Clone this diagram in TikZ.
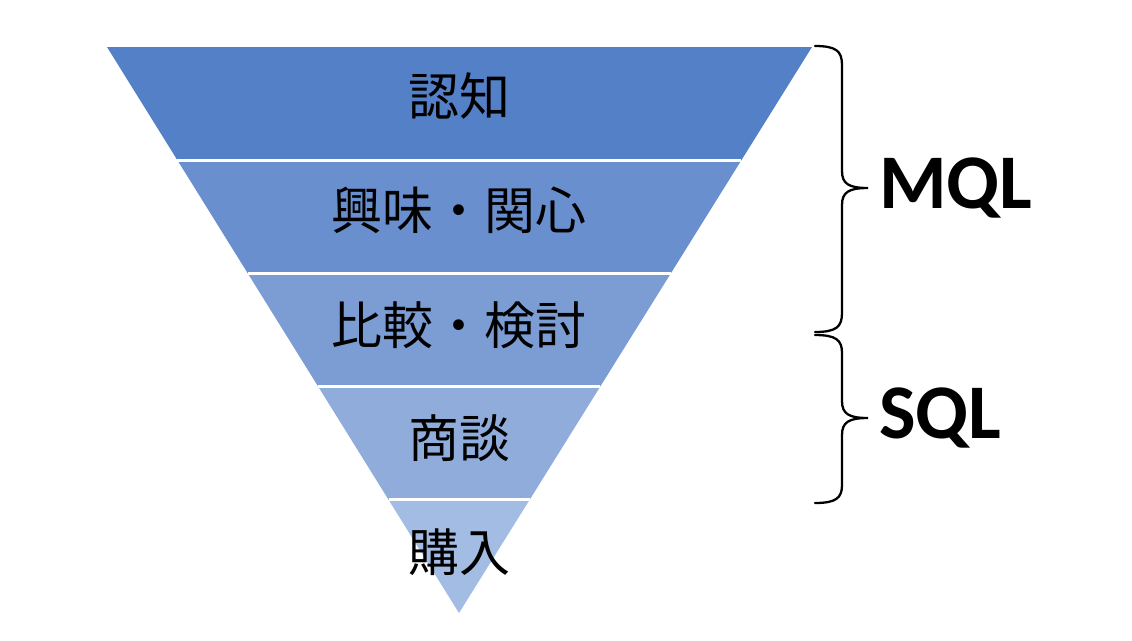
\documentclass[tikz,border=0pt]{standalone}
\usepackage{fontspec}
\usepackage{tikz}
\usetikzlibrary{calc}
\newfontfamily\jpfont{Noto Sans CJK JP}
\newfontfamily\latfont{Carlito}
\definecolor{stageA}{RGB}{84,128,199}
\definecolor{stageB}{RGB}{106,143,206}
\definecolor{stageC}{RGB}{124,157,212}
\definecolor{stageD}{RGB}{143,172,219}
\definecolor{stageE}{RGB}{163,188,227}
\tikzset{
  stage/.style={draw=none},
  gap/.style={draw=white, line width=1.6pt},
  lbl/.style={font=\jpfont\fontsize{29}{34}\selectfont, text=black, inner sep=0pt},
  tag/.style={font=\latfont\bfseries\fontsize{44}{50}\selectfont, text=black, anchor=west, inner sep=0pt},
  brace/.style={draw=black, line width=1.3pt, line cap=round}
}
\begin{document}
\begin{tikzpicture}[x=0.02cm, y=-0.02cm]
    \useasboundingbox[fill=white] (0,0) rectangle (1132,640);
    % funnel corners
    \coordinate (tl) at (107,47);
    \coordinate (tr) at (812,47);
    \coordinate (apex) at (459,613);

    % bands, top to bottom
    \foreach \i/\col in {0/stageA,1/stageB,2/stageC,3/stageD,4/stageE}{
      \pgfmathsetmacro{\fa}{\i/5}
      \pgfmathsetmacro{\fb}{(\i+1)/5}
      \fill[stage, fill=\col] ($(tl)!\fa!(apex)$) -- ($(tr)!\fa!(apex)$)
        -- ($(tr)!\fb!(apex)$) -- ($(tl)!\fb!(apex)$) -- cycle;
    }
    \foreach \i in {1,2,3,4}{
      \pgfmathsetmacro{\fa}{\i/5}
      \draw[gap] ($(tl)!\fa!(apex)$) -- ($(tr)!\fa!(apex)$);
    }

    \node[lbl] (ninchi) at (459,96) {認知};
    \node[lbl] (kyomi) at (459,210) {興味・関心};
    \node[lbl] (hikaku) at (459,325) {比較・検討};
    \node[lbl] (shodan) at (459,438) {商談};
    \node[lbl] (konyu) at (459,552) {購入};

    % braces
    \coordinate (mtop) at (815,46);
    \coordinate (mtip) at (868,188);
    \coordinate (mbot) at (815,332);
    \coordinate (stop) at (815,335);
    \coordinate (stip) at (868,418);
    \coordinate (sbot) at (815,503);
    \draw[brace] (mtop) .. controls (836,46) and (842,51) .. (842,65) -- (842,171)
      .. controls (842,184) and (849,188) .. (mtip)
      .. controls (849,188) and (842,192) .. (842,205) -- (842,313)
      .. controls (842,327) and (836,332) .. (mbot);
    \draw[brace] (stop) .. controls (836,335) and (842,340) .. (842,353) -- (842,401)
      .. controls (842,414) and (849,418) .. (stip)
      .. controls (849,418) and (842,422) .. (842,435) -- (842,485)
      .. controls (842,498) and (836,503) .. (sbot);

    \node[tag] (mql) at (879,188) {MQL};
    \node[tag] (sql) at (879,418) {SQL};
\end{tikzpicture}
\end{document}
